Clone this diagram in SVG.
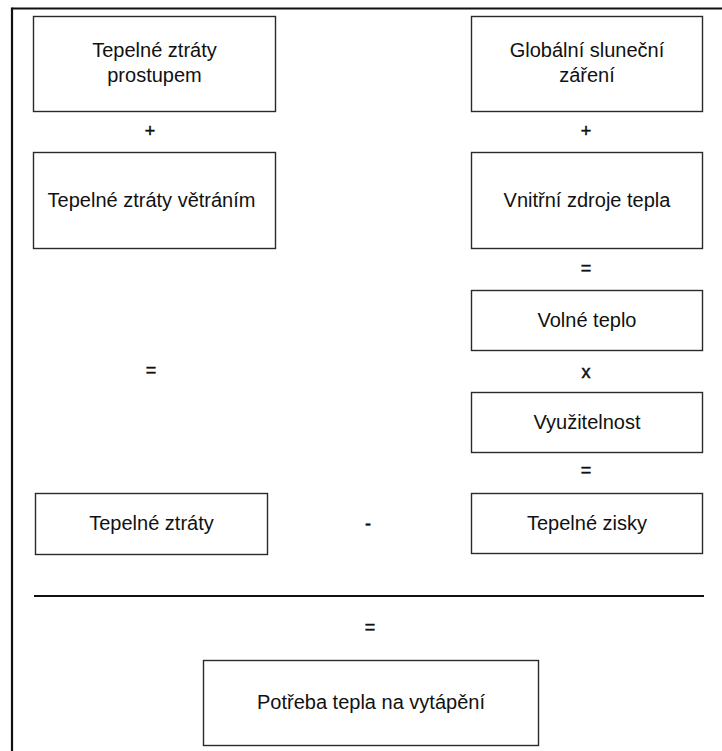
<svg xmlns="http://www.w3.org/2000/svg" width="722" height="751" viewBox="0 0 722 751">
  <style>
    .box { fill: #ffffff; stroke: #2a2a2a; stroke-width: 1.4; }
    .t { font-family: "Liberation Sans", Arial, sans-serif; font-size: 20px; fill: #111; text-anchor: middle; }
    .op { font-family: "Liberation Sans", Arial, sans-serif; font-size: 18px; fill: #111; stroke: #111; stroke-width: 0.5; text-anchor: middle; }
    .frame { stroke: #111; stroke-width: 2.2; fill: none; }
  </style>
  <rect x="0" y="0" width="722" height="751" fill="#ffffff"/>
  <g id="frame">
    <line class="frame" x1="12" y1="8.5" x2="722" y2="8.5"/>
    <line class="frame" x1="12" y1="7.5" x2="12" y2="751"/>
  </g>
  <g id="connectors">
    <text class="op" x="150" y="137">+</text>
    <text class="op" x="586" y="137">+</text>
    <text class="op" x="586" y="274">=</text>
    <text class="op" x="151" y="376">=</text>
    <text class="op" x="586" y="378">x</text>
    <text class="op" x="586" y="476">=</text>
    <text class="op" x="368" y="530">-</text>
    <line class="frame" x1="34" y1="596" x2="704" y2="596"/>
    <text class="op" x="370" y="633">=</text>
  </g>
  <g id="n-prostup">
    <rect class="box" x="33.5" y="16.5" width="242" height="95"/>
    <text class="t" x="154.5" y="57">Tepelné ztráty</text>
    <text class="t" x="154.5" y="82">prostupem</text>
  </g>
  <g id="n-vetrani">
    <rect class="box" x="33.5" y="152.5" width="242" height="96"/>
    <text class="t" x="151.5" y="207">Tepelné ztráty větráním</text>
  </g>
  <g id="n-ztraty">
    <rect class="box" x="35.5" y="493.5" width="232" height="61"/>
    <text class="t" x="151.5" y="530">Tepelné ztráty</text>
  </g>
  <g id="n-slunce">
    <rect class="box" x="471.5" y="16.5" width="231" height="95"/>
    <text class="t" x="587" y="57">Globální sluneční</text>
    <text class="t" x="587" y="82">záření</text>
  </g>
  <g id="n-vnitrni">
    <rect class="box" x="471.5" y="152.5" width="231" height="96"/>
    <text class="t" x="587" y="207">Vnitřní zdroje tepla</text>
  </g>
  <g id="n-volne">
    <rect class="box" x="471.5" y="290.5" width="231" height="60"/>
    <text class="t" x="587" y="327">Volné teplo</text>
  </g>
  <g id="n-vyuzitelnost">
    <rect class="box" x="471.5" y="392.5" width="231" height="60"/>
    <text class="t" x="587" y="429">Využitelnost</text>
  </g>
  <g id="n-zisky">
    <rect class="box" x="471.5" y="493.5" width="231" height="60"/>
    <text class="t" x="587" y="530">Tepelné zisky</text>
  </g>
  <g id="n-potreba">
    <rect class="box" x="203.5" y="660.5" width="335" height="85"/>
    <text class="t" x="371" y="709">Potřeba tepla na vytápění</text>
  </g>
</svg>
